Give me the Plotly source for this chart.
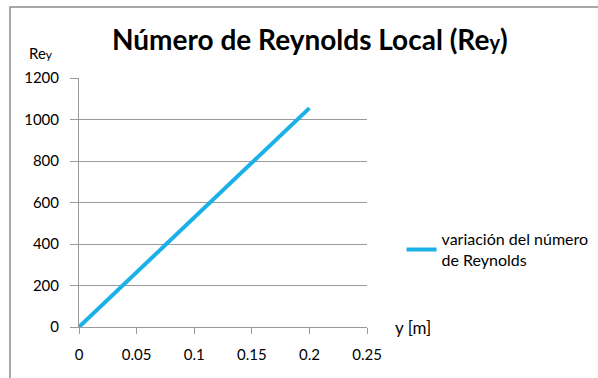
import plotly.graph_objects as go

# Distancia y [m] y número de Reynolds local correspondiente
y_m = [0.00, 0.01, 0.02, 0.03, 0.04, 0.05, 0.06, 0.07, 0.08, 0.09, 0.10,
       0.11, 0.12, 0.13, 0.14, 0.15, 0.16, 0.17, 0.18, 0.19, 0.20]
re_y = [0, 52.8, 105.5, 158.3, 211.0, 263.8, 316.5, 369.3, 422.0, 474.8, 527.5,
        580.3, 633.0, 685.8, 738.5, 791.3, 844.0, 896.8, 949.5, 1002.3, 1055.0]

x_ticks = [0, 0.05, 0.1, 0.15, 0.2, 0.25]
x_tick_text = ["0", "0.05", "0.1", "0.15", "0.2", "0.25"]
y_ticks = [0, 200, 400, 600, 800, 1000, 1200]

FONT = "Lato"
BLUE = "#1cb0e8"
GRID = "#9a9a9a"

fig = go.Figure()
fig.add_trace(go.Scatter(
    x=y_m, y=re_y, mode="lines",
    name="variación del número<br>de Reynolds",
    line=dict(color=BLUE, width=4),
))

fig.update_layout(
    width=598, height=378,
    margin=dict(l=79, r=231, t=78, b=51, autoexpand=False),
    paper_bgcolor="white", plot_bgcolor="white",
    font=dict(family=FONT, size=15, color="#000000"),
    showlegend=True,
    legend=dict(
        x=1.12, y=0.31, xanchor="left", yanchor="middle",
        font=dict(family=FONT, size=16, color="#000000"),
        bgcolor="rgba(0,0,0,0)", itemwidth=30, tracegroupgap=0,
    ),
    xaxis=dict(
        range=[0, 0.25], tickvals=x_ticks, ticktext=x_tick_text,
        showgrid=False, zeroline=False,
        showline=True, linecolor=GRID, linewidth=1,
        ticks="outside", ticklen=6, tickcolor=GRID,
        ticklabelstandoff=8,
        tickfont=dict(family=FONT, size=15),
        fixedrange=True,
    ),
    yaxis=dict(
        range=[0, 1200], tickvals=y_ticks,
        showgrid=True, gridcolor=GRID, gridwidth=1, zeroline=False,
        showline=True, linecolor=GRID, linewidth=1,
        ticks="outside", ticklen=8, tickcolor=GRID,
        ticklabelstandoff=8,
        tickfont=dict(family=FONT, size=15),
        fixedrange=True,
    ),
    annotations=[
        dict(text="<b>Número de Reynolds Local (Re<span style='font-size:20px'>y</span>)</b>",
             xref="paper", yref="paper", x=0.802, y=1.155,
             xanchor="center", yanchor="middle", showarrow=False,
             font=dict(family=FONT, size=28, color="#000000")),
        dict(text="Re<span style='font-size:12px'>y</span>",
             xref="paper", yref="paper", x=-0.18, y=1.10,
             xanchor="left", yanchor="middle", showarrow=False,
             font=dict(family=FONT, size=15, color="#000000")),
        dict(text="y [m]",
             xref="paper", yref="paper", x=1.09, y=0.0,
             xanchor="left", yanchor="middle", showarrow=False,
             font=dict(family=FONT, size=17, color="#000000")),
    ],
    shapes=[
        dict(type="rect", xref="paper", yref="paper",
             x0=-0.2396, x1=2.0, y0=-1.0, y1=1.285,
             line=dict(color="#8c8c8c", width=1.5), fillcolor="rgba(0,0,0,0)",
             layer="below"),
    ],
)

fig.write_html("out.html")
